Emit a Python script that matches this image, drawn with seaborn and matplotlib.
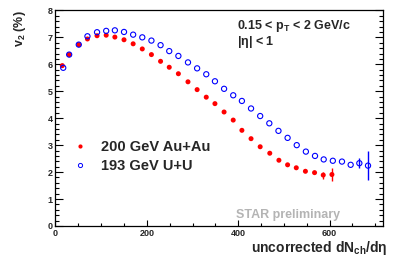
import numpy as np
import pandas as pd
import matplotlib
matplotlib.use("Agg")
import matplotlib.pyplot as plt
from matplotlib.lines import Line2D
from matplotlib.ticker import MultipleLocator
import seaborn as sns

# 200 GeV Au+Au
auau_x = [15, 30, 51, 70, 91, 111, 130, 150, 170, 190, 210, 230, 249, 269, 290, 310,
          330, 349, 369, 389, 408, 428, 448, 469, 489, 508, 527, 547, 567, 586, 605]
auau_v2 = [5.95, 6.36, 6.73, 6.94, 7.06, 7.08, 7.01, 6.91, 6.76, 6.57, 6.36, 6.11, 5.89,
           5.65, 5.35, 5.06, 4.78, 4.54, 4.23, 3.93, 3.55, 3.24, 2.94, 2.70, 2.44, 2.27,
           2.16, 2.03, 1.98, 1.89, 1.91]
auau_err = [0] * 29 + [0.13, 0.24]

# 193 GeV U+U
uu_x = [17, 30, 51, 70, 91, 111, 130, 150, 170, 190, 210, 230, 249, 269, 290, 310, 330,
        349, 369, 389, 408, 428, 448, 468, 488, 508, 528, 548, 568, 587, 607, 627, 646,
        665, 684]
uu_v2 = [5.87, 6.36, 6.73, 7.04, 7.19, 7.24, 7.26, 7.20, 7.10, 7.00, 6.88, 6.71, 6.49,
         6.31, 6.07, 5.85, 5.63, 5.37, 5.09, 4.85, 4.64, 4.36, 4.08, 3.81, 3.53, 3.27,
         3.00, 2.76, 2.60, 2.47, 2.42, 2.39, 2.27, 2.33, 2.24]
uu_err = [0] * 33 + [0.19, 0.55]

auau = pd.DataFrame({"x": auau_x, "v2": auau_v2, "err": auau_err})
uu = pd.DataFrame({"x": uu_x, "v2": uu_v2, "err": uu_err})

sns.set_style("ticks")
plt.rcParams["font.family"] = ["Liberation Sans", "DejaVu Sans"]
plt.rcParams["font.weight"] = "bold"
plt.rcParams["axes.labelweight"] = "bold"
plt.rcParams["mathtext.fontset"] = "custom"
plt.rcParams["mathtext.rm"] = "Liberation Sans:bold"
plt.rcParams["mathtext.it"] = "Liberation Sans:bold"
plt.rcParams["mathtext.bf"] = "Liberation Sans:bold"

fig = plt.figure(figsize=(3.99, 2.70), dpi=100)
ax = fig.add_axes([0.139, 0.163, 0.820, 0.7985])

ax.errorbar(auau["x"], auau["v2"], yerr=auau["err"], fmt="none", ecolor="red", elinewidth=1)
ax.errorbar(uu["x"], uu["v2"], yerr=uu["err"], fmt="none", ecolor="blue", elinewidth=1)
sns.scatterplot(data=auau, x="x", y="v2", ax=ax, color="red", s=13, edgecolor="none",
                zorder=3)
sns.scatterplot(data=uu, x="x", y="v2", ax=ax, marker="o", s=14, facecolor="none",
                edgecolor="blue", linewidth=0.8, zorder=3)

ax.set_xlim(0, 716)
ax.set_ylim(0, 8)
ax.xaxis.set_major_locator(MultipleLocator(200))
ax.xaxis.set_minor_locator(MultipleLocator(50))
ax.yaxis.set_major_locator(MultipleLocator(1))
ax.yaxis.set_minor_locator(MultipleLocator(0.2))
ax.tick_params(which="both", direction="in", right=True, top=False, labelsize=6.5,
               width=0.8, color="black", pad=2)
ax.tick_params(axis="y", which="major", length=5.5)
ax.tick_params(axis="y", which="minor", length=3)
ax.tick_params(axis="x", which="major", length=4)
ax.tick_params(axis="x", which="minor", length=2.2)
for lab in ax.get_xticklabels() + ax.get_yticklabels():
    lab.set_fontweight("bold")
for sp in ax.spines.values():
    sp.set_linewidth(0.9)
    sp.set_color("black")

ax.set_xlabel(r"uncorrected dN$_{\mathrm{ch}}$/d$\eta$", fontsize=10, loc="right",
              fontweight="bold")
ax.xaxis.set_label_coords(1.015, -0.06)
ax.set_ylabel(r"v$_{2}$ (%)", fontsize=9, loc="top", fontweight="bold")
ax.yaxis.set_label_coords(-0.085, 1.0)

fig.text(0.593, 0.8915, r"0.15 < p$_{\mathrm{T}}$ < 2 GeV/c", fontsize=9, va="baseline")
fig.text(0.593, 0.8315, r"|$\eta$| < 1", fontsize=9, va="baseline")
fig.text(0.5915, 0.193, "STAR preliminary", fontsize=9, color="#b4b4b4", va="baseline")

handles = [
    Line2D([], [], ls="none", marker="o", color="red", markersize=3, markeredgewidth=0),
    Line2D([], [], ls="none", marker="o", markerfacecolor="none", markeredgecolor="blue",
           markersize=3, markeredgewidth=0.7),
]
ax.legend(handles, ["200 GeV Au+Au", "193 GeV U+U"], loc="upper left",
          bbox_to_anchor=(0.0535, 0.397), frameon=False, borderpad=0, borderaxespad=0,
          handlelength=1.0, handletextpad=0.9, labelspacing=0.3,
          prop={"size": 10.5, "weight": "bold"})

fig.savefig("out.png", dpi=100)
